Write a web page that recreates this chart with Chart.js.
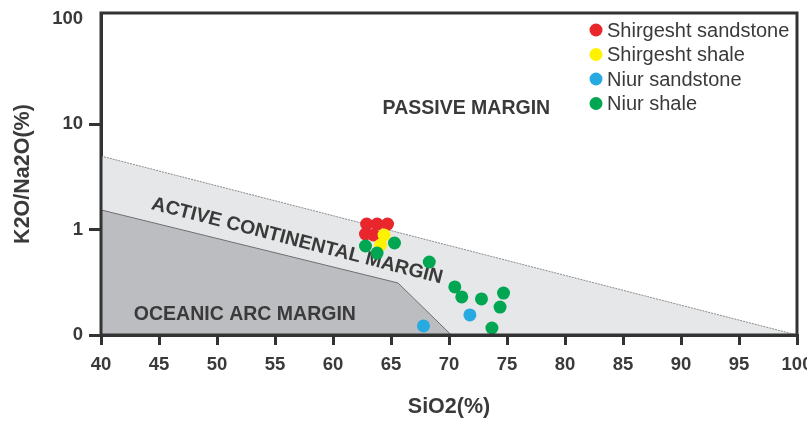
<!DOCTYPE html>
<html>
<head>
<meta charset="utf-8">
<script src="https://cdn.jsdelivr.net/npm/chart.js@4.4.1/dist/chart.umd.min.js"></script>
<style>
  html, body { margin: 0; padding: 0; background: #ffffff; }
  #wrap { width: 807px; height: 421px; }
</style>
</head>
<body>
<div id="wrap"><canvas id="c" width="807" height="421"></canvas></div>
<script>
// ---- data ----
const seriesNames = ['Shirgesht sandstone', 'Shirgesht shale', 'Niur sandstone', 'Niur shale'];
const seriesColors = ['#e8262b', '#fff200', '#27aae1', '#00a651'];

const shirgeshtSandstoneSiO2  = [62.9, 63.8, 64.7, 62.8, 63.5];
const shirgeshtSandstoneRatio = [1.13, 1.13, 1.13, 0.91, 0.89];

const shirgeshtShaleSiO2  = [64.4, 64.1];
const shirgeshtShaleRatio = [0.89, 0.715];

const niurSandstoneSiO2  = [67.8, 71.8];
const niurSandstoneRatio = [0.122, 0.155];

const niurShaleSiO2  = [62.8, 65.3, 63.8, 68.3, 70.5, 71.1, 72.8, 74.7, 74.4, 73.7];
const niurShaleRatio = [0.70, 0.747, 0.60, 0.493, 0.286, 0.230, 0.220, 0.250, 0.184, 0.1165];

// field boundaries
const passiveBoundarySiO2  = [40, 100];
const passiveBoundaryRatio = [5.0, 0.1];
const arcBoundarySiO2  = [40, 65.6, 70.2];
const arcBoundaryRatio = [1.54, 0.312, 0.1];

const regionNames = ['PASSIVE MARGIN', 'ACTIVE CONTINENTAL MARGIN', 'OCEANIC ARC MARGIN'];
const regionSiO2  = [71.5, 56.9, 52.4];
const regionRatio = [14.1, 0.78, 0.157];

const xMin = 40, xMax = 100, xStep = 5;
const yMin = 0.1, yMax = 114;
const yTickValues = [0.1, 1, 10, 100];
const yTickLabels = ['0', '1', '10', '100'];

// ---- build ----
const zip = (xs, ys) => xs.map((x, i) => ({ x: x, y: ys[i] }));
const pointSets = [
  zip(shirgeshtSandstoneSiO2, shirgeshtSandstoneRatio),
  zip(shirgeshtShaleSiO2, shirgeshtShaleRatio),
  zip(niurSandstoneSiO2, niurSandstoneRatio),
  zip(niurShaleSiO2, niurShaleRatio)
];
const pointOrder = [3, 2, 1, 0]; // later series drawn on top

const FONT = "'Liberation Sans', Arial, Helvetica, sans-serif";
const INK = '#333333';
const TXT = '#3a3a3a';

const datasets = pointSets.map((d, i) => ({
  type: 'scatter',
  label: seriesNames[i],
  data: d,
  backgroundColor: seriesColors[i],
  borderColor: seriesColors[i],
  borderWidth: 0,
  pointRadius: 6.5,
  order: pointOrder[i]
}));
datasets.push({
  type: 'line',
  label: 'arc boundary',
  data: zip(arcBoundarySiO2, arcBoundaryRatio),
  borderColor: '#6d6e70',
  borderWidth: 1,
  backgroundColor: '#bcbdc0',
  fill: 'start',
  pointRadius: 0,
  tension: 0,
  order: 4
});
datasets.push({
  type: 'line',
  label: 'passive boundary',
  data: zip(passiveBoundarySiO2, passiveBoundaryRatio),
  borderColor: '#8a8b8d',
  borderWidth: 1,
  borderDash: [2, 1],
  backgroundColor: '#e6e7e8',
  fill: 'start',
  pointRadius: 0,
  tension: 0,
  order: 5
});

const regionLabelPlugin = {
  id: 'regionLabels',
  afterDatasetDraw(chart, args) {
    if (args.index !== 4) return;
    const ctx = chart.ctx;
    const xs = chart.scales.x, ys = chart.scales.y;
    const x1 = xs.getPixelForValue(passiveBoundarySiO2[0]);
    const y1 = ys.getPixelForValue(passiveBoundaryRatio[0]);
    const x2 = xs.getPixelForValue(passiveBoundarySiO2[1]);
    const y2 = ys.getPixelForValue(passiveBoundaryRatio[1]);
    const ang = Math.atan2(y2 - y1, x2 - x1);
    const rotations = [0, ang, 0];
    ctx.save();
    ctx.fillStyle = TXT;
    ctx.font = 'bold 19.5px ' + FONT;
    ctx.textAlign = 'center';
    ctx.textBaseline = 'middle';
    regionNames.forEach((name, i) => {
      const px = xs.getPixelForValue(regionSiO2[i]);
      const py = ys.getPixelForValue(regionRatio[i]);
      ctx.save();
      ctx.translate(px, py);
      ctx.rotate(rotations[i]);
      ctx.fillText(name, 0, 0);
      ctx.restore();
    });
    ctx.restore();
  }
};

const framePlugin = {
  id: 'frame',
  afterDraw(chart) {
    const { ctx, chartArea: a } = chart;
    ctx.save();
    ctx.strokeStyle = INK;
    ctx.lineWidth = 3;
    ctx.strokeRect(a.left, a.top, a.right - a.left, a.bottom - a.top);
    ctx.restore();
  }
};

const legendPlugin = {
  id: 'insideLegend',
  afterDraw(chart) {
    const { ctx, chartArea: a } = chart;
    const cx = a.right - 201;
    const top = a.top + 17;
    const step = 24.5;
    ctx.save();
    ctx.font = '20px ' + FONT;
    ctx.textAlign = 'left';
    ctx.textBaseline = 'middle';
    chart.data.datasets.slice(0, 4).forEach((ds, i) => {
      const y = top + i * step;
      ctx.beginPath();
      ctx.arc(cx, y, 6.5, 0, Math.PI * 2);
      ctx.fillStyle = ds.backgroundColor;
      ctx.fill();
      ctx.fillStyle = TXT;
      ctx.fillText(ds.label, cx + 11, y + 1);
    });
    ctx.restore();
  }
};

new Chart(document.getElementById('c'), {
  type: 'scatter',
  data: { datasets: datasets },
  plugins: [regionLabelPlugin, framePlugin, legendPlugin],
  options: {
    responsive: false,
    animation: false,
    devicePixelRatio: 1,
    layout: { padding: { top: 13, right: 10, left: 0, bottom: 0 } },
    plugins: { legend: { display: false }, tooltip: { enabled: false } },
    scales: {
      x: {
        type: 'linear',
        min: xMin, max: xMax,
        ticks: { stepSize: xStep, color: TXT, font: { family: FONT, size: 18.5, weight: 'bold' }, padding: 9 },
        grid: { drawOnChartArea: false, drawTicks: true, tickLength: 10, color: INK, lineWidth: 3 },
        border: { display: true, color: INK, width: 3 },
        title: { display: true, text: 'SiO2(%)', color: TXT, font: { family: FONT, size: 21.5, weight: 'bold' }, padding: { top: 0, bottom: 1 } },
        afterFit(s) { s.height = 86; s.paddingLeft = 0; s.paddingRight = 0; }
      },
      y: {
        type: 'logarithmic',
        min: yMin, max: yMax,
        afterBuildTicks(s) { s.ticks = yTickValues.map(v => ({ value: v })); },
        ticks: {
          color: TXT, font: { family: FONT, size: 18.5, weight: 'bold' }, padding: 6,
          callback: (v) => { const k = yTickValues.indexOf(v); return k >= 0 ? yTickLabels[k] : ''; }
        },
        grid: {
          drawOnChartArea: false, drawTicks: true, tickLength: 12, lineWidth: 3,
          color: (c) => (c.tick && c.tick.value === yTickValues[yTickValues.length - 1]) ? 'rgba(0,0,0,0)' : INK
        },
        border: { display: true, color: INK, width: 3 },
        title: { display: true, text: 'K2O/Na2O(%)', color: TXT, font: { family: FONT, size: 21.5, weight: 'bold' }, padding: { top: 10, bottom: 0 } },
        afterFit(s) { s.width = 101; s.paddingTop = 0; s.paddingBottom = 0; }
      }
    }
  }
});
</script>
</body>
</html>
